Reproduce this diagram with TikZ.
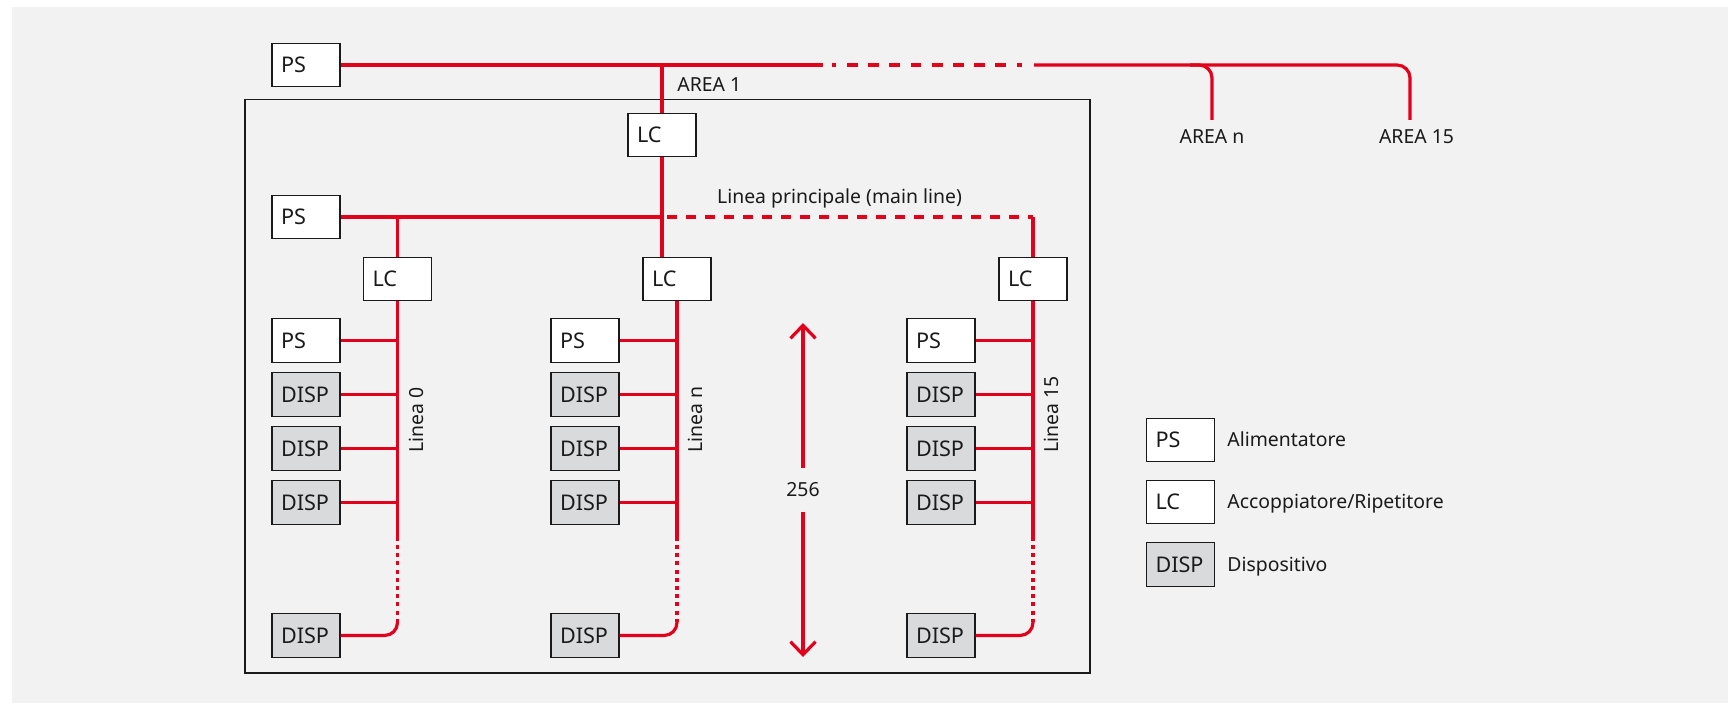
\documentclass[tikz,border=0pt]{standalone}
\usepackage{fontspec}
\setmainfont{Noto Sans}
\usetikzlibrary{arrows.meta}
\definecolor{abbred}{HTML}{E2001A}
\definecolor{bgc}{HTML}{F2F2F2}
\definecolor{dispfill}{HTML}{D9DADB}
\definecolor{ink}{HTML}{1A1A1A}
\begin{document}
\begin{tikzpicture}[x=0.5pt,y=-0.5pt,
  box/.style={draw=ink, line width=0.65pt, fill=white, minimum width=34pt, minimum height=21.75pt,
    text width=25pt, inner xsep=4.5pt, inner ysep=0pt, align=left,
    font=\fontsize{10.8}{12}\selectfont, text height=7.7pt, text depth=0pt, text=ink},
  disp/.style={box, fill=dispfill},
  lbl/.style={font=\fontsize{9.7}{11}\selectfont, text=ink, inner sep=0pt},
  legl/.style={lbl, anchor=west, text height=6.9pt, text depth=0pt},
  areal/.style={lbl, inner ysep=4.5pt, anchor=base},
  bus/.style={draw=abbred, line width=1.6pt},
  dotbus/.style={bus, dash pattern=on 2pt off 2.1pt, dash phase=2.1pt},
  dashbus/.style={bus, dash pattern=on 5pt off 4.5pt, dash phase=7pt},
  dashdotbus/.style={bus, dash pattern=on 0pt off 4.5pt on 2pt off 5.5pt
     on 5.35pt off 5.25pt on 5.35pt off 5.25pt on 5.35pt off 5.25pt on 5.35pt off 5.25pt
     on 5.35pt off 5.25pt on 5.35pt off 5.25pt on 5.35pt off 5.25pt on 5.35pt off 5.5pt
     on 2.5pt off 6pt},
]
\useasboundingbox (0,0) rectangle (1728,703);
\fill[white] (0,0) rectangle (1728,703);
\fill[bgc] (12,7) rectangle (1728,703);

% area frame
\draw[ink, line width=0.75pt] (245,99.5) rectangle (1090,673);

% top level
\node[box] (ps0) at (306,65) {PS};
\node[box] (lcA) at (662,135) {LC};
\node[lbl, anchor=base west] (area1) at (677,91.7) {AREA 1};
\node[areal] (arean) at (1212,143.3) {AREA n};
\node[areal] (area15) at (1416.5,143.3) {AREA 15};
\coordinate (t1) at (823,65);
\coordinate (t2) at (1034,65);
\coordinate (tb) at (1190,65);
\coordinate (tc) at (1410,65);
\draw[bus] (ps0.east) -- (t1);
\draw[dashdotbus] (t1) -- (t2);
\draw[bus, rounded corners=6.5pt] (t2) -- (tc) -- (tc |- area15.north);
\draw[bus, rounded corners=6.5pt] (tb) -- (arean.north |- tb) -- (arean.north);
\draw[bus] (lcA.north |- ps0.east) -- (lcA.north);

% main line
\node[box] (ps1) at (306,217) {PS};
\node[lbl, anchor=base west] (mainl) at (716.7,203.3) {Linea principale (main line)};

\foreach \c/\lx/\bx/\lab in {0/397.5/306/Linea 0, n/677/585/Linea n, 15/1033/941/Linea 15}{
  \node[box] (lc\c) at (\lx,279) {LC};
  \node[box] (ps\c x) at (\bx,340.5) {PS};
  \node[disp] (da\c) at (\bx,394.5) {DISP};
  \node[disp] (db\c) at (\bx,448.5) {DISP};
  \node[disp] (dc\c) at (\bx,502.5) {DISP};
  \node[disp] (dz\c) at (\bx,635.5) {DISP};
  \coordinate (s\c) at (\lx,541);
  \coordinate (e\c) at (\lx,622);
  \draw[bus] (lc\c.south) -- (s\c);
  \draw[dotbus] (s\c) -- (e\c);
  \draw[bus, rounded corners=6.5pt] (e\c) -- (e\c |- dz\c.east) -- (dz\c.east);
  \draw[bus] (ps\c x.east) -- (ps\c x.east -| lc\c.south);
  \draw[bus] (da\c.east) -- (da\c.east -| lc\c.south);
  \draw[bus] (db\c.east) -- (db\c.east -| lc\c.south);
  \draw[bus] (dc\c.east) -- (dc\c.east -| lc\c.south);
  \node[lbl, rotate=90, anchor=base west] (ll\c) at (\lx+25.5,453) {\lab};
}

\draw[bus] (ps1.east) -- (lcA.south |- ps1.east);
\draw[dashbus] (lcA.south |- ps1.east) -- (lc15.north |- ps1.east);
\draw[bus] (lc15.north |- ps1.east) -- (lc15.north);
\draw[bus] (lc0.north |- ps1.east) -- (lc0.north);
\draw[bus] (lcA.south) -- (lcA.south |- lcn.north);

% 256 arrow
\node[lbl, inner ysep=7.25pt] (n256) at (803,490) {256};
\coordinate (atop) at (803,323);
\coordinate (abot) at (803,657);
\draw[bus, -{Straight Barb[length=6.5pt,width=12.5pt]}] (n256.north) -- (atop);
\draw[bus, -{Straight Barb[length=6.5pt,width=12.5pt]}] (n256.south) -- (abot);

% legend
\node[box] (lgps) at (1180.5,440) {PS};
\node[box] (lglc) at (1180.5,502) {LC};
\node[disp] (lgd) at (1180.5,564.5) {DISP};
\node[legl] (lgpst) at (1227,440) {Alimentatore};
\node[legl] (lglct) at (1227,502) {Accoppiatore/Ripetitore};
\node[legl] (lgdt) at (1227,564.5) {Dispositivo};
\end{tikzpicture}
\end{document}
